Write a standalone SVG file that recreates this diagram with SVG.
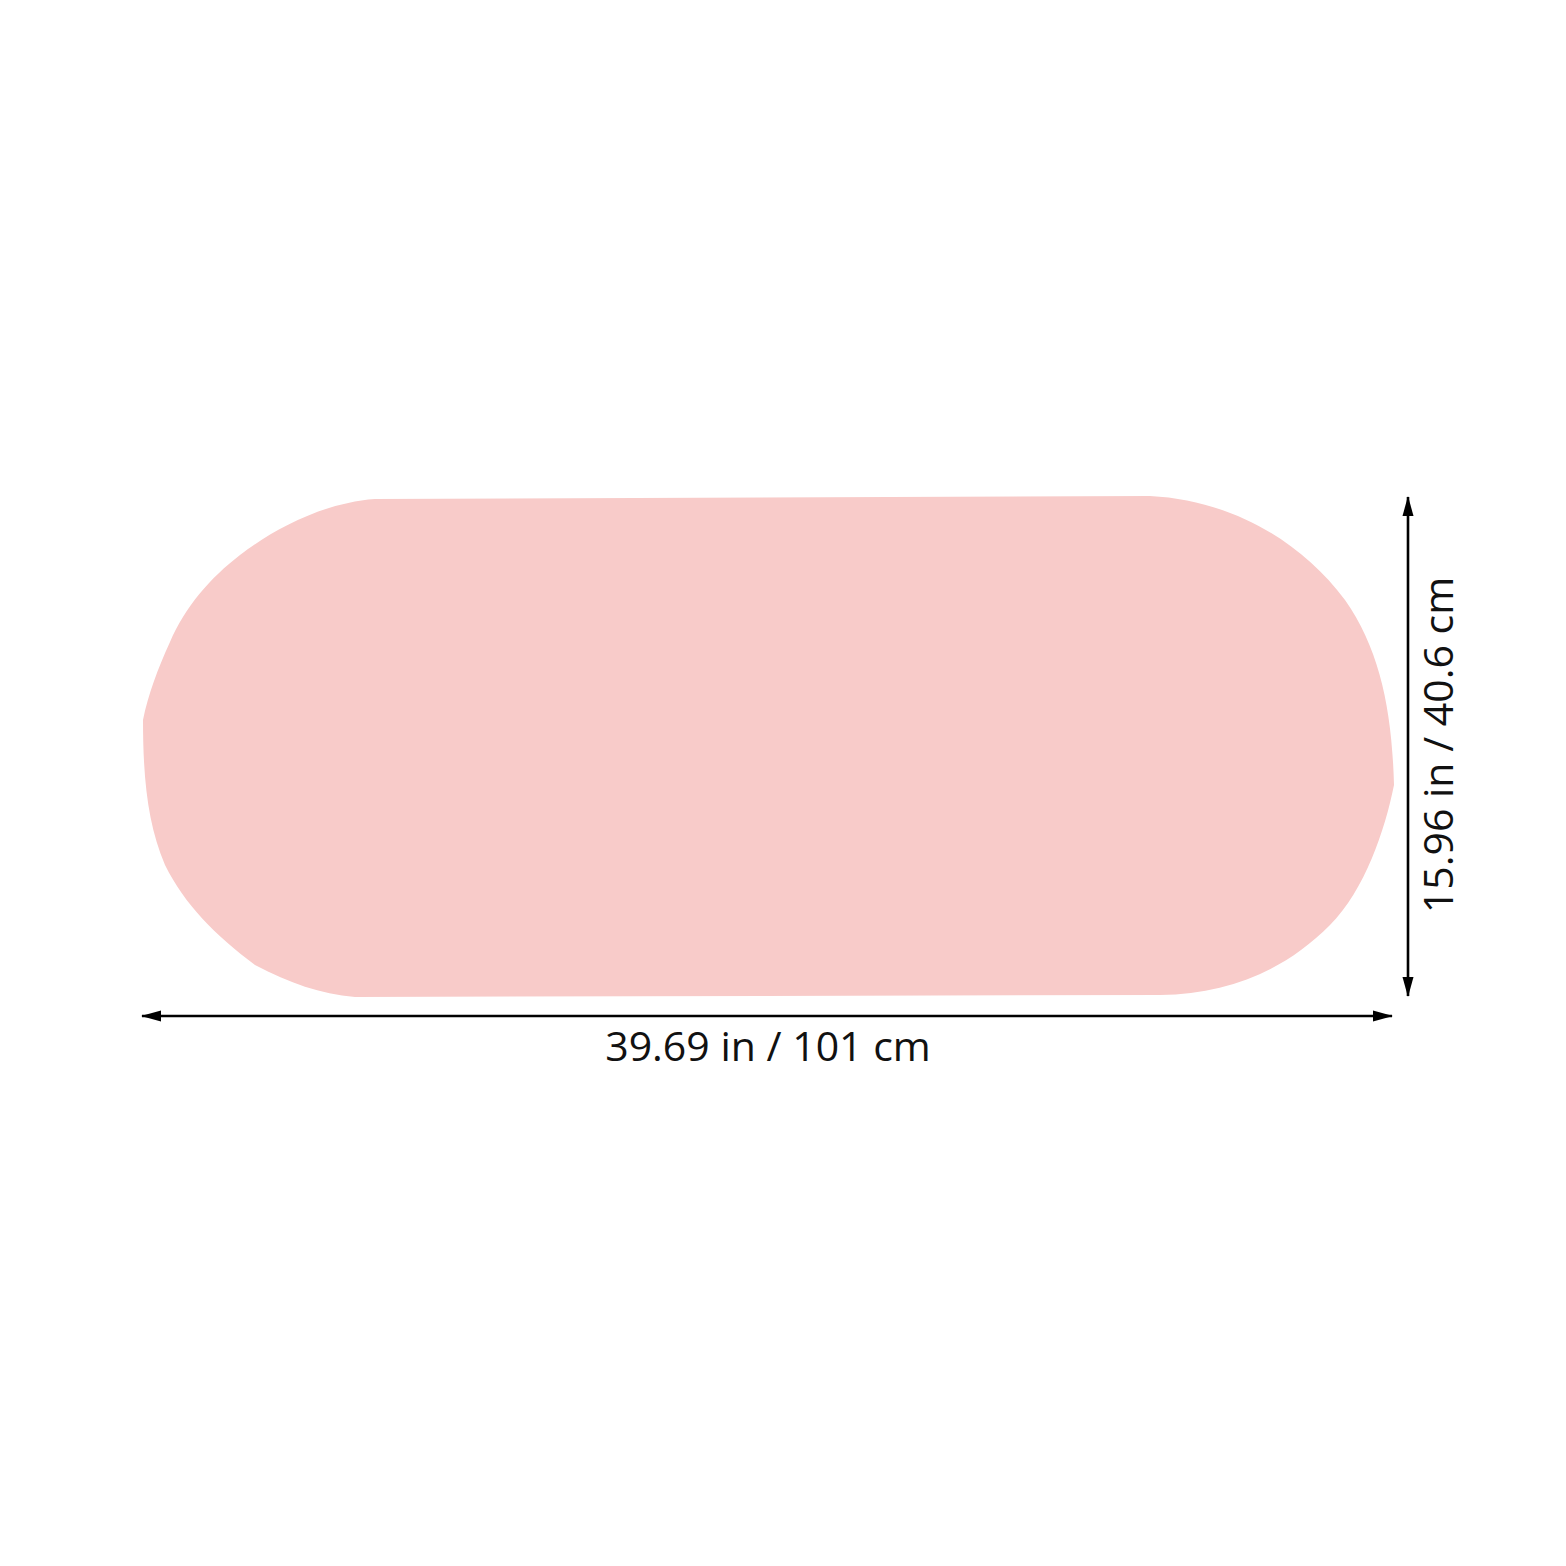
<svg xmlns="http://www.w3.org/2000/svg" width="1566" height="1566" viewBox="0 0 1566 1566">
<style>
.dim{stroke:#000;stroke-width:2.6;fill:none}
.lbl{font-family:"Open Sans","Noto Sans",sans-serif;font-size:41px;fill:#111;text-anchor:middle}
</style>
<defs>
<marker id="ah" viewBox="0 0 20 12" refX="19" refY="6" markerWidth="20" markerHeight="12" markerUnits="userSpaceOnUse" orient="auto-start-reverse">
<path d="M0 0.5 L20 6 L0 11.5 Z" fill="#000"/>
</marker>
</defs>
<rect width="1566" height="1566" fill="#fff"/>
<g id="mat">
<path fill="#F8CBC9" d="M 375 499 L 1150 496 C 1230 500 1300 540 1345 600 C 1380 650 1392 710 1394 785 C 1385 830 1365 890 1330 925 C 1285 970 1230 994 1160 995 L 355 997 C 320 994 290 983 255 965 C 215 935 185 905 165 865 C 148 825 143 780 143 720 C 148 695 158 668 170 642 C 185 607 210 578 240 555 C 270 532 320 503 375 499 Z"/>
</g>
<g id="connectors">
<line class="dim" x1="142" y1="1016" x2="1392" y2="1016" marker-start="url(#ah)" marker-end="url(#ah)"/>
<line class="dim" x1="1408" y1="497" x2="1408" y2="996" marker-start="url(#ah)" marker-end="url(#ah)"/>
</g>
<g id="width-label">
<text class="lbl" x="768" y="1061">39.69 in / 101 cm</text>
</g>
<g id="height-label">
<text class="lbl" transform="translate(1453 745) rotate(-90)">15.96 in / 40.6 cm</text>
</g>
</svg>
